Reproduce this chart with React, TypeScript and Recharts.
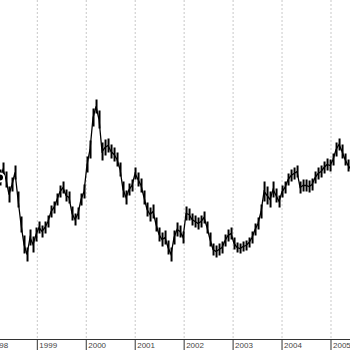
import React from 'react';
import { ComposedChart, Bar, Line, XAxis, YAxis, CartesianGrid } from 'recharts';

// sampled every ~3 weeks from spring 1998 to spring 2005
const START_YEAR = 1998.238;
const STEP_YEARS = 0.0613;

const HIGHS = [
  170, 177, 168, 153, 162, 174, 148, 123, 104, 92, 110, 103, 112, 118, 114, 118, 124, 134, 138, 146,
  154, 158, 150, 148, 133, 126, 132, 146, 155, 183, 199, 231, 240, 229, 197, 200, 201, 195, 192, 187,
  177, 158, 149, 156, 160, 172, 167, 161, 149, 137, 132, 135, 122, 112, 107, 109, 99, 92, 109, 117,
  114, 108, 133, 131, 126, 124, 122, 124, 128, 118, 107, 96, 94, 96, 98, 105, 110, 112, 102, 97,
  96, 98, 99, 102, 108, 116, 122, 135, 158, 153, 148, 158, 151, 144, 154, 158, 166, 170, 172, 174,
  158, 160, 160, 159, 161, 168, 172, 174, 178, 181, 180, 186, 197, 201, 195, 186, 180, 176,
];

const LOWS = [
  154, 163, 152, 137, 148, 160, 132, 107, 86, 78, 94, 87, 98, 106, 102, 106, 112, 122, 126, 134,
  142, 146, 138, 136, 119, 114, 120, 134, 141, 167, 181, 213, 226, 211, 179, 184, 187, 181, 178, 173,
  163, 142, 135, 144, 148, 160, 153, 147, 135, 123, 118, 121, 108, 98, 93, 95, 85, 78, 95, 103,
  102, 96, 119, 119, 114, 112, 110, 112, 116, 106, 93, 84, 82, 84, 86, 93, 98, 100, 90, 87,
  86, 88, 89, 92, 96, 104, 110, 121, 138, 135, 132, 142, 137, 132, 142, 146, 154, 158, 160, 162,
  146, 148, 148, 147, 149, 156, 160, 162, 166, 169, 168, 174, 183, 189, 181, 174, 168, 164,
];

const YEAR_TICKS = [1998, 1999, 2000, 2001, 2002, 2003, 2004, 2005];

const data = HIGHS.map((h, i) => ({
  t: START_YEAR + i * STEP_YEARS,
  range: [LOWS[i], h],
  close: (LOWS[i] + h) / 2,
}));

function YearTick(props: any) {
  const { x, y, payload } = props;
  return (
    <g>
      <line x1={x} y1={y} x2={x} y2={y + 12} stroke="#333" strokeWidth={1} />
      <text
        x={x + 2}
        y={y + 8.5}
        fontSize={8}
        fill="#444"
        fontFamily="'Liberation Sans', Arial, sans-serif"
      >
        {payload.value}
      </text>
    </g>
  );
}

export default function App() {
  return (
    <div
      style={{
        position: 'absolute',
        left: 0,
        top: 0,
        width: 350,
        height: 350,
        overflow: 'hidden',
        background: '#fff',
      }}
    >
      <div style={{ marginLeft: -20 }}>
        <ComposedChart
          width={390}
          height={350}
          data={data}
          margin={{ top: 0, right: 0, bottom: 0, left: 0 }}
        >
          <CartesianGrid
            horizontal={false}
            vertical
            stroke="#c8c8c8"
            strokeDasharray="2 2"
          />
          <XAxis
            dataKey="t"
            type="number"
            domain={[1997.829, 2005.797]}
            ticks={YEAR_TICKS}
            allowDataOverflow
            height={10.5}
            tickSize={0}
            tickMargin={0}
            tickLine={false}
            axisLine={{ stroke: '#333' }}
            tick={<YearTick />}
            interval={0}
          />
          <YAxis hide domain={[0, 339.5]} allowDataOverflow />
          <Bar dataKey="range" fill="#000" barSize={2} isAnimationActive={false} />
          <Line
            dataKey="close"
            stroke="#000"
            strokeWidth={1.3}
            dot={false}
            isAnimationActive={false}
          />
        </ComposedChart>
      </div>
    </div>
  );
}
